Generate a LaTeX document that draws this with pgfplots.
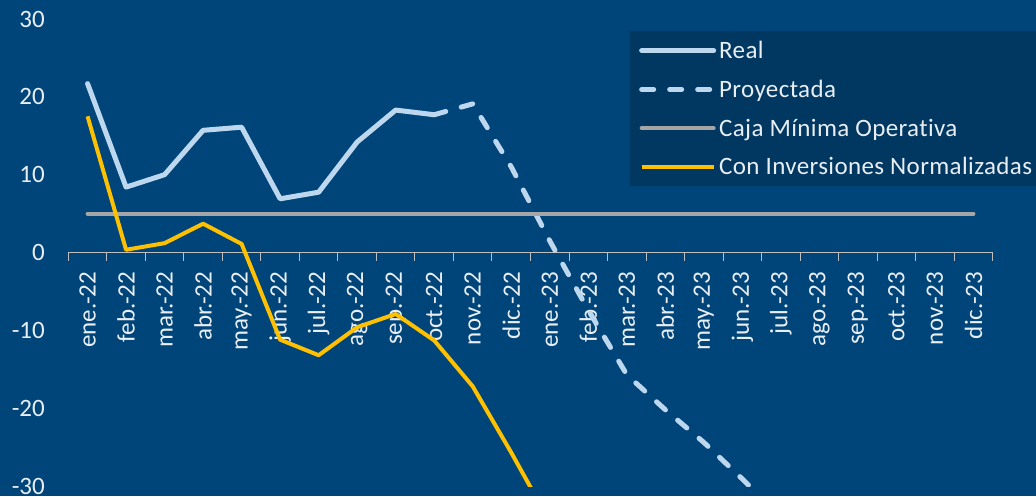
\documentclass[border=0pt]{standalone}
\usepackage{fontspec}
\setmainfont{Carlito}[Ligatures=NoCommon]
\newfontfamily\legfont{Carlito}[LetterSpace=1.5, Ligatures=NoCommon]
\usepackage{pgfplots}
\pgfplotsset{compat=1.18}

\definecolor{bg}{HTML}{00457A}
\definecolor{legbg}{HTML}{003862}
\definecolor{real}{HTML}{BDD7EE}
\definecolor{caja}{HTML}{A6A6A6}
\definecolor{inv}{HTML}{FFC000}
\definecolor{txt}{HTML}{E9EEF3}
\definecolor{axgray}{HTML}{BFBFBF}

\begin{document}
\begin{tikzpicture}[x=1pt,y=1pt]
\useasboundingbox[fill=bg] (0,0) rectangle (1036,496);
\begin{axis}[
    at={(68.3pt,10pt)}, anchor=south west,
    scale only axis,
    width=924.4pt, height=467pt,
    xmin=-0.5, xmax=23.5,
    ymin=-30, ymax=30,
    axis x line=middle, axis y line=left,
    x axis line style={draw=axgray, line width=1pt, -},
    y axis line style={draw=none},
    hide obscured x ticks=false, hide obscured y ticks=false,
    xtick={0,...,23},
    xticklabels={ene.-22,feb.-22,mar.-22,abr.-22,may.-22,jun.-22,jul.-22,ago.-22,sep.-22,oct.-22,nov.-22,dic.-22,
                 ene.-23,feb.-23,mar.-23,abr.-23,may.-23,jun.-23,jul.-23,ago.-23,sep.-23,oct.-23,nov.-23,dic.-23},
    minor xtick={-0.5,0.5,...,23.5},
    xtick style={draw=none},
    minor x tick style={draw=axgray, line width=1pt},
    major tick length=0pt, minor tick length=8pt,
    xtick align=outside,
    ytick={-30,-20,...,30},
    yticklabels={-30,-20,-10,0,10,20,30},
    ytick style={draw=none},
    xticklabel shift=19pt,
    x tick label style={rotate=90, anchor=east, inner sep=0pt,
        font=\fontsize{25}{30}\selectfont, text=txt},
    y tick label style={anchor=east, inner sep=0pt, xshift=-23.3pt,
        font=\fontsize{25}{30}\selectfont, text=txt},
    legend cell align=left,
    legend image code/.code={\draw[#1] (0pt,0pt) -- (72pt,0pt);},
    legend style={at={(0.6076,0.9743)}, anchor=north west,
        fill=legbg, draw=none, text=txt,
        font=\legfont\fontsize{25}{30}\selectfont,
        inner xsep=9pt, inner ysep=8pt, row sep=16pt,
        nodes={inner xsep=3pt}},
]
% Real
\addplot[real, line width=5pt, line join=round, line cap=round] coordinates {
    (0,21.7) (1,8.4) (2,10.0) (3,15.7) (4,16.1) (5,6.9)
    (6,7.75) (7,14.2) (8,18.3) (9,17.7)
};
\addlegendentry{Real}
% Proyectada
\addplot[real, line width=5pt, line cap=round, dash pattern=on 12pt off 16pt] coordinates {
    (9,17.7) (10,19.1) (11,11.0) (12,1.5) (13,-7.4) (14,-15.7)
    (15,-20.2) (16,-24.4) (17,-29.1) (18,-34)
};
\addlegendentry{Proyectada}
% Caja minima operativa
\addplot[caja, line width=4pt, line cap=round] coordinates {
    (0,5) (23,5)
};
\addlegendentry{Caja Mínima Operativa}
% Con inversiones normalizadas
\addplot[inv, line width=4pt, line join=round] coordinates {
    (0,17.5) (1,0.35) (2,1.2) (3,3.7) (4,1.1) (5,-11.2) (6,-13.2)
    (7,-9.6) (8,-7.9) (9,-11.3) (10,-17.2) (11,-25.7) (12,-34.6)
};
\addlegendentry{Con Inversiones Normalizadas}
\end{axis}
\end{tikzpicture}
\end{document}
